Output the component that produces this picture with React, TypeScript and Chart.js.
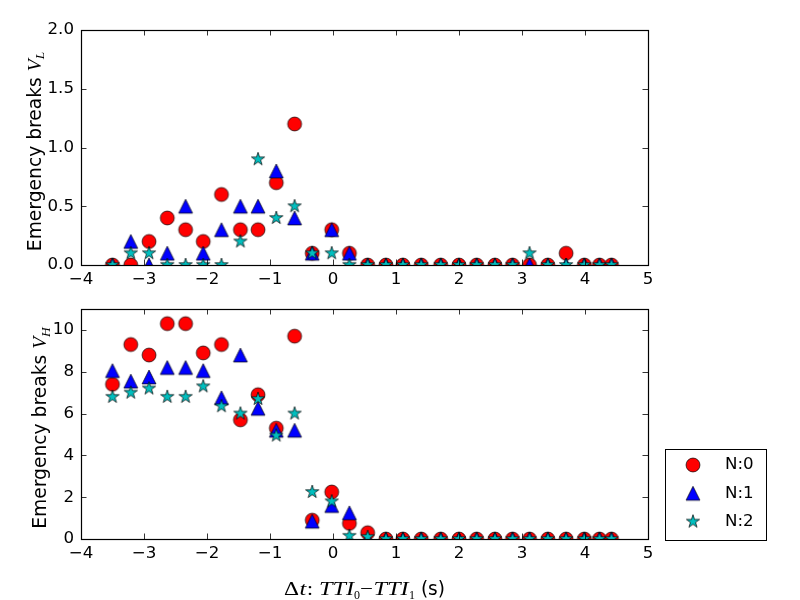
import React, { useEffect, useRef } from 'react';
import { Chart, registerables } from 'chart.js';

Chart.register(...registerables);

// ---------- data ----------
const xValues = [
  -3.5, -3.21, -2.92, -2.63, -2.34, -2.06, -1.77, -1.47, -1.19, -0.9, -0.61, -0.33, -0.02, 0.26,
  0.55, 0.84, 1.11, 1.4, 1.71, 2.0, 2.28, 2.57, 2.85, 3.12, 3.41, 3.7, 3.99, 4.23, 4.42,
];

const seriesLabels = ['N:0', 'N:1', 'N:2'];
const seriesColors = ['#ff0000', '#0000ff', '#00bfbf'];
const seriesMarkers = ['circle', 'triangle', 'star'];

// V_L (top panel)
const lowN0 = [0, 0, 0.2, 0.4, 0.3, 0.2, 0.6, 0.3, 0.3, 0.7, 1.2, 0.1, 0.3, 0.1, 0, 0, 0, 0, 0, 0, 0, 0, 0, 0, 0, 0.1, 0, 0, 0];
const lowN1 = [0, 0.2, 0, 0.1, 0.5, 0.1, 0.3, 0.5, 0.5, 0.8, 0.4, 0.1, 0.3, 0.1, 0, 0, 0, 0, 0, 0, 0, 0, 0, 0, 0, 0, 0, 0, 0];
const lowN2 = [0, 0.1, 0.1, 0, 0, 0, 0, 0.2, 0.9, 0.4, 0.5, 0.1, 0.1, 0, 0, 0, 0, 0, 0, 0, 0, 0, 0, 0.1, 0, 0, 0, 0, 0];

// V_H (bottom panel)
const highN0 = [7.4, 9.3, 8.8, 10.3, 10.3, 8.9, 9.3, 5.7, 6.9, 5.3, 9.7, 0.9, 2.25, 0.75, 0.3, 0, 0, 0, 0, 0, 0, 0, 0, 0, 0, 0, 0, 0, 0];
const highN1 = [8.05, 7.55, 7.75, 8.2, 8.2, 8.05, 6.75, 8.8, 6.25, 5.2, 5.2, 0.85, 1.6, 1.25, 0, 0, 0, 0, 0, 0, 0, 0, 0, 0, 0, 0, 0, 0, 0];
const highN2 = [6.8, 7.0, 7.2, 6.8, 6.8, 7.3, 6.35, 6.0, 6.7, 4.95, 6.0, 2.25, 1.8, 0.15, 0.1, 0, 0, 0, 0, 0, 0, 0, 0, 0, 0, 0, 0, 0, 0];

const xMin = -4;
const xMax = 5;
const xStep = 1;
const lowYMax = 2.0;
const lowYStep = 0.5;
const highYMax = 11;
const highYStep = 2;

// ---------- styling ----------
const SANS = '"DejaVu Sans", sans-serif';
const SERIF = '"Liberation Serif", "DejaVu Serif", serif';
const FS = 16.67;
const LFS = 18.7;
const MFS = 19.5;
const SFS = 13.5;
const MINUS = '\u2212';

function fmtX(v: number) {
  return v < 0 ? MINUS + Math.abs(v) : String(v);
}

function makeMarker(kind: string, color: string): HTMLCanvasElement {
  const c = document.createElement('canvas');
  c.width = 18;
  c.height = 18;
  const ctx = c.getContext('2d') as CanvasRenderingContext2D;
  const cx = 9, cy = 9, r = 6.95;
  ctx.beginPath();
  if (kind === 'circle') {
    ctx.arc(cx, cy, r, 0, Math.PI * 2);
  } else if (kind === 'triangle') {
    ctx.moveTo(cx, cy - r);
    ctx.lineTo(cx - r, cy + r);
    ctx.lineTo(cx + r, cy + r);
    ctx.closePath();
  } else {
    for (let i = 0; i < 10; i++) {
      const a = -Math.PI / 2 + (i * Math.PI) / 5;
      const rr = i % 2 === 0 ? r : r * 0.381966;
      const px = cx + Math.cos(a) * rr;
      const py = cy + Math.sin(a) * rr;
      if (i === 0) ctx.moveTo(px, py);
      else ctx.lineTo(px, py);
    }
    ctx.closePath();
  }
  ctx.fillStyle = color;
  ctx.fill();
  ctx.lineWidth = 0.7;
  ctx.strokeStyle = '#000';
  ctx.stroke();
  return c;
}

type Seg = { text: string; font: string; dy?: number; w?: number };

function drawRich(ctx: CanvasRenderingContext2D, segs: Seg[], x: number, y: number, angle: number) {
  ctx.save();
  ctx.translate(x, y);
  ctx.rotate(angle);
  ctx.textAlign = 'left';
  ctx.textBaseline = 'alphabetic';
  ctx.fillStyle = '#000';
  const natural = segs.map((s) => {
    ctx.font = s.font;
    return ctx.measureText(s.text).width;
  });
  const widths = segs.map((s, i) => (s.w !== undefined ? s.w : natural[i]));
  const total = widths.reduce((a, b) => a + b, 0);
  let cur = -total / 2;
  segs.forEach((s, i) => {
    ctx.font = s.font;
    if (s.w !== undefined && natural[i] > 0) {
      const sx = Math.min(Math.max(s.w / natural[i], 0.8), 1.25);
      const drawn = natural[i] * sx;
      ctx.save();
      ctx.translate(cur + (s.w - drawn) / 2, s.dy || 0);
      ctx.scale(sx, 1);
      ctx.fillText(s.text, 0, 0);
      ctx.restore();
    } else {
      ctx.fillText(s.text, cur, s.dy || 0);
    }
    cur += widths[i];
  });
  ctx.restore();
}

function frameAndTicks(chart: any) {
  const ctx = chart.ctx as CanvasRenderingContext2D;
  const a = chart.chartArea;
  const tl = 5.5;
  ctx.save();
  ctx.strokeStyle = '#000';
  ctx.lineWidth = 0.8;
  ctx.beginPath();
  chart.scales.x.ticks.forEach((t: any) => {
    const px = Math.round(chart.scales.x.getPixelForValue(t.value)) + 0.5;
    ctx.moveTo(px, a.bottom);
    ctx.lineTo(px, a.bottom - tl);
    ctx.moveTo(px, a.top);
    ctx.lineTo(px, a.top + tl);
  });
  chart.scales.y.ticks.forEach((t: any) => {
    const py = Math.round(chart.scales.y.getPixelForValue(t.value)) + 0.5;
    ctx.moveTo(a.left, py);
    ctx.lineTo(a.left + tl, py);
    ctx.moveTo(a.right, py);
    ctx.lineTo(a.right - tl, py);
  });
  ctx.stroke();
  ctx.lineWidth = 1.2;
  ctx.strokeRect(Math.round(a.left) + 0.5, Math.round(a.top) + 0.5, Math.round(a.right - a.left), Math.round(a.bottom - a.top));
  ctx.restore();
}

function buildDatasets(values: number[][], markers: HTMLCanvasElement[]) {
  return values.map((vals, i) => ({
    label: seriesLabels[i],
    data: xValues.map((x, j) => ({ x, y: vals[j] })),
    pointStyle: markers[i],
    pointRadius: 7,
    backgroundColor: seriesColors[i],
    borderColor: '#000',
    showLine: false,
    clip: 0,
    order: 3 - i,
  }));
}

function buildOptions(yMax: number, yStep: number, yFmt: (v: number) => string, padTop: number, xAxisHeight: number) {
  return {
    responsive: false,
    animation: false as const,
    events: [] as any[],
    layout: { padding: { left: 0, right: 152, top: padTop, bottom: 0 } },
    plugins: { legend: { display: false }, tooltip: { enabled: false } },
    scales: {
      x: {
        type: 'linear' as const,
        min: xMin,
        max: xMax,
        grid: { display: false, drawTicks: false },
        border: { display: false },
        ticks: {
          stepSize: xStep,
          includeBounds: false,
          autoSkip: false,
          maxRotation: 0,
          padding: 5,
          color: '#000',
          font: { family: SANS, size: FS },
          callback: (v: any) => fmtX(Number(v)),
        },
        afterFit: (s: any) => {
          s.height = xAxisHeight;
        },
      },
      y: {
        type: 'linear' as const,
        min: 0,
        max: yMax,
        grid: { display: false, drawTicks: false },
        border: { display: false },
        ticks: {
          stepSize: yStep,
          includeBounds: false,
          autoSkip: false,
          padding: 7,
          color: '#000',
          font: { family: SANS, size: FS },
          callback: (v: any) => yFmt(Number(v)),
        },
        afterFit: (s: any) => {
          s.width = 81;
        },
      },
    },
  };
}

export default function App() {
  const topRef = useRef<HTMLCanvasElement | null>(null);
  const botRef = useRef<HTMLCanvasElement | null>(null);

  useEffect(() => {
    const markers = seriesMarkers.map((m, i) => makeMarker(m, seriesColors[i]));

    const topPlugin = {
      id: 'topDecor',
      afterDatasetsDraw(chart: any) {
        frameAndTicks(chart);
        const a = chart.chartArea;
        drawRich(
          chart.ctx,
          [
            { text: 'Emergency breaks ', font: `${LFS}px ${SANS}` },
            { text: 'V', font: `italic ${MFS}px ${SERIF}` },
            { text: 'L', font: `italic ${SFS}px ${SERIF}`, dy: 3.5 },
          ],
          40.5,
          (a.top + a.bottom) / 2 + 4,
          -Math.PI / 2
        );
      },
    };

    const botPlugin = {
      id: 'botDecor',
      afterDatasetsDraw(chart: any) {
        frameAndTicks(chart);
        const a = chart.chartArea;
        const ctx = chart.ctx as CanvasRenderingContext2D;
        drawRich(
          ctx,
          [
            { text: 'Emergency breaks ', font: `${LFS}px ${SANS}` },
            { text: 'V', font: `italic ${MFS}px ${SERIF}` },
            { text: 'H', font: `italic ${SFS}px ${SERIF}`, dy: 3.5 },
          ],
          46,
          (a.top + a.bottom) / 2 + 4,
          -Math.PI / 2
        );
        drawRich(
          ctx,
          [
            { text: '\u0394', font: `${MFS}px ${SERIF}`, w: 15 },
            { text: 't', font: `italic ${MFS}px ${SERIF}`, w: 8 },
            { text: ':', font: `${MFS}px ${SERIF}`, w: 6 },
            { text: ' ', font: `${MFS}px ${SERIF}`, w: 6 },
            { text: 'TTI', font: `italic ${MFS}px ${SERIF}`, w: 35 },
            { text: '0', font: `${SFS}px ${SERIF}`, dy: 3.5, w: 6 },
            { text: MINUS, font: `${MFS}px ${SERIF}`, w: 13 },
            { text: 'TTI', font: `italic ${MFS}px ${SERIF}`, w: 36 },
            { text: '1', font: `${SFS}px ${SERIF}`, dy: 3.5, w: 6 },
            { text: ' (s)', font: `${LFS}px ${SANS}`, w: 30 },
          ],
          (a.left + a.right) / 2,
          a.bottom + 56,
          0
        );
        // legend
        const lx = a.right + 17;
        const lw = 101;
        const lh = 91;
        const ly = a.bottom + 1 - lh;
        ctx.save();
        ctx.fillStyle = '#fff';
        ctx.fillRect(lx, ly, lw, lh);
        ctx.strokeStyle = '#000';
        ctx.lineWidth = 1;
        ctx.strokeRect(Math.round(lx) + 0.5, Math.round(ly) + 0.5, lw, lh);
        ctx.font = `${FS}px ${SANS}`;
        ctx.textAlign = 'left';
        ctx.textBaseline = 'middle';
        ctx.fillStyle = '#000';
        seriesLabels.forEach((lab, i) => {
          const ry = ly + 16 + i * 28.3;
          const m = markers[i];
          ctx.drawImage(m, lx + 28 - m.width / 2, ry - m.height / 2);
          ctx.fillText(lab, lx + 60, ry);
        });
        ctx.restore();
      },
    };

    const topChart = new Chart(topRef.current as HTMLCanvasElement, {
      type: 'scatter',
      data: { datasets: buildDatasets([lowN0, lowN1, lowN2], markers) as any },
      options: buildOptions(lowYMax, lowYStep, (v) => v.toFixed(1), 30, 27) as any,
      plugins: [topPlugin],
    });
    const botChart = new Chart(botRef.current as HTMLCanvasElement, {
      type: 'scatter',
      data: { datasets: buildDatasets([highN0, highN1, highN2], markers) as any },
      options: buildOptions(highYMax, highYStep, (v) => String(v), 12, 61) as any,
      plugins: [botPlugin],
    });
    return () => {
      topChart.destroy();
      botChart.destroy();
    };
  }, []);

  return (
    <div style={{ position: 'absolute', left: 0, top: 0, width: 800, height: 600, background: '#fff' }}>
      <canvas ref={topRef} width={800} height={292} style={{ position: 'absolute', left: 0, top: 0, width: 800, height: 292 }} />
      <canvas ref={botRef} width={800} height={308} style={{ position: 'absolute', left: 0, top: 292, width: 800, height: 308 }} />
    </div>
  );
}
